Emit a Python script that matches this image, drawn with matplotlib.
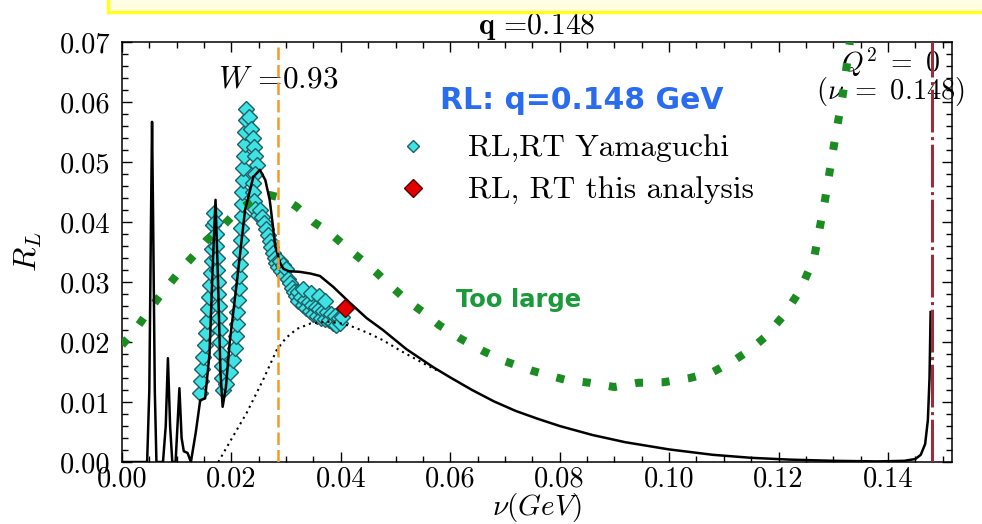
import matplotlib.pyplot as plt
from matplotlib.lines import Line2D
from matplotlib.patches import Rectangle
from matplotlib.ticker import MultipleLocator, FormatStrFormatter

plt.rcParams['font.family'] = 'cmr10'
plt.rcParams['mathtext.fontset'] = 'cm'
plt.rcParams['axes.formatter.use_mathtext'] = True

# full R_L model curve (nu in GeV)
nu_model = [0.0000, 0.0040, 0.0046, 0.0050, 0.0053, 0.0055, 0.0057, 0.0060, 0.0063,
            0.0075, 0.0080, 0.0084, 0.0088, 0.0092, 0.0098, 0.0102, 0.0105, 0.0109,
            0.0113, 0.0120, 0.0126, 0.0135, 0.0143, 0.0152, 0.0160, 0.0166, 0.0171,
            0.0175, 0.0180, 0.0184, 0.0190, 0.0197, 0.0210, 0.0225, 0.0240, 0.0252,
            0.0262, 0.0270, 0.0275, 0.0280, 0.0289, 0.0295, 0.0305, 0.0325, 0.0345,
            0.0362, 0.0386, 0.0417, 0.0447, 0.0477, 0.0520, 0.0569, 0.0600, 0.0640,
            0.0680, 0.0720, 0.0760, 0.0800, 0.0860, 0.0920, 0.1000, 0.1080, 0.1150,
            0.1220, 0.1300, 0.1380, 0.1430, 0.1450, 0.1460, 0.1468, 0.1473, 0.1476,
            0.1478]
rl_model = [0.0000, 0.0000, 0.0000, 0.0120, 0.0400, 0.0567, 0.0400, 0.0120, 0.0000,
            0.0000, 0.0060, 0.0173, 0.0060, 0.0000, 0.0000, 0.0070, 0.0123, 0.0040,
            0.0018, 0.0015, 0.0000, 0.0050, 0.0103, 0.0106, 0.0180, 0.0330, 0.0437,
            0.0320, 0.0150, 0.0092, 0.0125, 0.0200, 0.0300, 0.0420, 0.0475, 0.0487,
            0.0470, 0.0437, 0.0400, 0.0360, 0.0332, 0.0322, 0.0318, 0.0317, 0.0314,
            0.0310, 0.0292, 0.0265, 0.0240, 0.0220, 0.0188, 0.0158, 0.0141, 0.0120,
            0.0101, 0.0085, 0.0072, 0.0060, 0.0045, 0.0033, 0.0021, 0.0012, 0.0007,
            0.0004, 0.0002, 0.0001, 0.0002, 0.0005, 0.0012, 0.0030, 0.0070, 0.0140,
            0.0250]

# quasi-elastic contribution (dotted)
nu_qe = [0.0176, 0.0200, 0.0228, 0.0258, 0.0283, 0.0300, 0.0320, 0.0345, 0.0375,
         0.0400, 0.0420, 0.0450, 0.0477, 0.0510, 0.0550, 0.0575]
rl_qe = [0.0000, 0.0038, 0.0082, 0.0137, 0.0187, 0.0207, 0.0222, 0.0231, 0.0234,
         0.0231, 0.0226, 0.0215, 0.0203, 0.0185, 0.0165, 0.0153]

# alternative curve, green
nu_green = [0.0000, 0.0024, 0.0046, 0.0066, 0.0088, 0.0110, 0.0132, 0.0155, 0.0183,
            0.0207, 0.0240, 0.0270, 0.0283, 0.0300, 0.0320, 0.0350, 0.0380, 0.0410,
            0.0438, 0.0466, 0.0493, 0.0520, 0.0550, 0.0580, 0.0620, 0.0660, 0.0700,
            0.0750, 0.0810, 0.0855, 0.0900, 0.0943, 0.0990, 0.1038, 0.1080, 0.1115,
            0.1148, 0.1175, 0.1210, 0.1240, 0.1265, 0.1285, 0.1303, 0.1318, 0.1330,
            0.1336]
rl_green = [0.0195, 0.0220, 0.0248, 0.0273, 0.0298, 0.0323, 0.0345, 0.0370, 0.0392,
            0.0415, 0.0437, 0.0445, 0.0442, 0.0437, 0.0425, 0.0400, 0.0382, 0.0358,
            0.0337, 0.0315, 0.0292, 0.0270, 0.0250, 0.0228, 0.0205, 0.0185, 0.0168,
            0.0152, 0.0137, 0.0132, 0.0125, 0.0132, 0.0133, 0.0140, 0.0150, 0.0167,
            0.0187, 0.0208, 0.0245, 0.0287, 0.0340, 0.0437, 0.0537, 0.0615, 0.0698,
            0.0745]

# Yamaguchi points
nu_yam = [0.0143, 0.0145, 0.0147, 0.0149, 0.0151, 0.0153, 0.0155, 0.0157, 0.0159, 0.0161,
          0.0163, 0.0164, 0.0165, 0.0166, 0.0167, 0.0168,
          0.0170, 0.0171, 0.0172, 0.0173, 0.0174, 0.0175, 0.0176, 0.0177, 0.0178, 0.0179,
          0.0180, 0.0181, 0.0182, 0.0183, 0.0185,
          0.0190, 0.0197, 0.0203, 0.0207, 0.0209, 0.0210, 0.0211, 0.0212, 0.0213, 0.0214,
          0.0215, 0.0216, 0.0217, 0.0218, 0.0219, 0.0220, 0.0220, 0.0221, 0.0222, 0.0223,
          0.0224, 0.0225, 0.0226, 0.0227,
          0.0233, 0.0236, 0.0239, 0.0242, 0.0244, 0.0246, 0.0243, 0.0240, 0.0239, 0.0241,
          0.0244, 0.0248, 0.0252, 0.0256,
          0.0260, 0.0264, 0.0267, 0.0270, 0.0273, 0.0276, 0.0279, 0.0282, 0.0285, 0.0288,
          0.0291, 0.0294, 0.0297, 0.0300, 0.0303, 0.0307,
          0.0310, 0.0314, 0.0318, 0.0322, 0.0322, 0.0327, 0.0330, 0.0334, 0.0337, 0.0341,
          0.0344, 0.0348, 0.0350, 0.0354, 0.0357, 0.0361, 0.0364, 0.0368, 0.0371, 0.0375,
          0.0378, 0.0382, 0.0385, 0.0389, 0.0392, 0.0396, 0.0399, 0.0402, 0.0330, 0.0345,
          0.0360, 0.0372]
rl_yam = [0.0115, 0.0135, 0.0155, 0.0175, 0.0195, 0.0215, 0.0235, 0.0255, 0.0275, 0.0295,
          0.0315, 0.0335, 0.0355, 0.0375, 0.0395, 0.0415,
          0.0400, 0.0380, 0.0360, 0.0340, 0.0320, 0.0300, 0.0280, 0.0260, 0.0240, 0.0220,
          0.0200, 0.0180, 0.0160, 0.0140, 0.0120,
          0.0130, 0.0150, 0.0170, 0.0190, 0.0210, 0.0230, 0.0250, 0.0270, 0.0290, 0.0310,
          0.0330, 0.0350, 0.0370, 0.0390, 0.0410, 0.0430, 0.0450, 0.0470, 0.0490, 0.0510,
          0.0530, 0.0550, 0.0570, 0.0588,
          0.0575, 0.0555, 0.0540, 0.0525, 0.0510, 0.0495, 0.0480, 0.0465, 0.0450, 0.0435,
          0.0422, 0.0412, 0.0420, 0.0408,
          0.0398, 0.0388, 0.0378, 0.0368, 0.0358, 0.0348, 0.0340, 0.0332, 0.0325, 0.0335,
          0.0318, 0.0328, 0.0312, 0.0322, 0.0305, 0.0298,
          0.0290, 0.0283, 0.0276, 0.0284, 0.0268, 0.0275, 0.0262, 0.0270, 0.0256, 0.0266,
          0.0252, 0.0262, 0.0246, 0.0258, 0.0244, 0.0255, 0.0240, 0.0252, 0.0238, 0.0250,
          0.0236, 0.0247, 0.0232, 0.0244, 0.0228, 0.0240, 0.0232, 0.0242, 0.0288, 0.0282,
          0.0276, 0.0268]

# this analysis
nu_this = [0.0408]
rl_this = [0.0257]

nu_w = 0.0285     # W = 0.93
nu_photon = 0.148  # Q^2 = 0

fig = plt.figure(figsize=(9.82, 5.24), dpi=100)
ax = fig.add_axes([0.1242, 0.1183, 0.8452, 0.8015])

ax.plot(nu_yam, rl_yam, ls='', marker='D', ms=8.5, mfc='#3fe3e3', mec='#1d5f66',
        mew=1.0, zorder=3)
ax.plot(nu_green, rl_green, color='#1b8c22', lw=5.8, ls=(0, (1, 2.3)),
        dash_capstyle='butt', zorder=4)
ax.plot(nu_qe, rl_qe, color='black', lw=1.5, ls=(0, (1, 2)), zorder=4)
ax.plot(nu_model, rl_model, color='black', lw=1.8, zorder=5)
ax.axvline(nu_w, color='#f29a2e', lw=1.8, ls=(0, (5, 2)), zorder=5)
ax.axvline(nu_photon, color='#9c2e3c', lw=2.2, ls=(0, (14, 1.5, 1, 1.5)), zorder=5)
ax.plot(nu_this, rl_this, ls='', marker='D', ms=9.5, mfc='#e50000', mec='#5a0000',
        mew=1.0, zorder=6)

ax.set_xlim(0, 0.1517)
ax.set_ylim(0, 0.07)
ax.xaxis.set_major_locator(MultipleLocator(0.02))
ax.xaxis.set_minor_locator(MultipleLocator(0.005))
ax.yaxis.set_major_locator(MultipleLocator(0.01))
ax.yaxis.set_minor_locator(MultipleLocator(0.002))
ax.xaxis.set_major_formatter(FormatStrFormatter('%.2f'))
ax.yaxis.set_major_formatter(FormatStrFormatter('%.2f'))
ax.tick_params(which='both', direction='in', top=True, right=True, width=1.0,
               labelsize=20.5)
ax.tick_params(which='major', length=7)
ax.tick_params(axis='y', which='major', pad=8)
ax.tick_params(axis='x', which='major', pad=3)
ax.tick_params(which='minor', length=4)
for s in ax.spines.values():
    s.set_linewidth(1.1)

ax.set_title(r'$\mathbf{q}$ =0.148', fontsize=21.5, pad=3)
ax.set_xlabel(r'$\nu(GeV)$', fontsize=21, labelpad=-1)
ax.set_ylabel(r'$R_L$', fontsize=23, labelpad=12)

ax.text(0.0175, 0.0625, r'$W$ =0.93', fontsize=22.5, zorder=1)
ax.text(0.1405, 0.0667, r'$Q^2\ =\ 0$', fontsize=20, ha='center', va='center',
        zorder=1)
ax.text(0.1405, 0.0618, r'$(\nu\ =\ 0.148)$', fontsize=20.5, ha='center', va='center',
        zorder=1)
ax.text(0.0841, 0.0603, 'RL: q=0.148 GeV', fontsize=21.5, color='#2a6cf0',
        fontfamily='DejaVu Sans', fontweight='bold', ha='center', va='center')
ax.text(0.0724, 0.0270, 'Too large', fontsize=17.5, color='#1a9a3a',
        fontfamily='DejaVu Sans', fontweight='bold', ha='center', va='center')

handles = [
    Line2D([], [], ls='', marker='D', ms=6, mfc='#3fe3e3', mec='#1d5f66', mew=1.0),
    Line2D([], [], ls='', marker='D', ms=9.5, mfc='#e50000', mec='#5a0000', mew=1.0),
]
ax.legend(handles, ['RL,RT Yamaguchi', 'RL, RT this analysis'], frameon=False,
          fontsize=22.5, loc='center left', bbox_to_anchor=(0.313, 0.695),
          borderpad=0, borderaxespad=0, handlelength=2.0, handletextpad=0.75,
          labelspacing=0.45)

# banner strip along the top edge
fig.add_artist(Rectangle((108 / 982, 1 - 12 / 524), 1.0, 0.1, transform=fig.transFigure,
                         facecolor='#fffee2', edgecolor='#ffff22', lw=2.5,
                         clip_on=False))

fig.savefig('out.png', dpi=100)
